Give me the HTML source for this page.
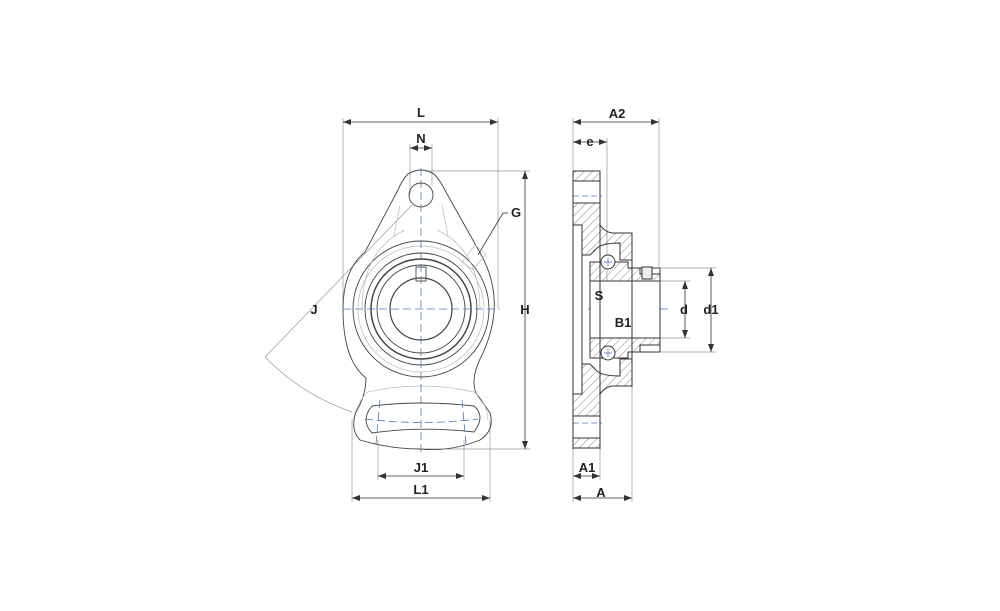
<!DOCTYPE html>
<html><head><meta charset="utf-8"><style>
html,body{margin:0;padding:0;background:#fff;}
svg{display:block;}
text{font-family:"Liberation Sans",sans-serif;font-weight:bold;font-size:13px;fill:#222;}
</style></head><body>
<svg width="1000" height="611" viewBox="0 0 1000 611" xmlns="http://www.w3.org/2000/svg">
<defs>
<pattern id="h" width="6" height="6" patternUnits="userSpaceOnUse" patternTransform="rotate(45)">
<line x1="0" y1="0" x2="0" y2="6" stroke="#555" stroke-width="0.7"/></pattern>
<marker id="a" markerWidth="8" markerHeight="6" refX="8" refY="3" orient="auto-start-reverse" markerUnits="userSpaceOnUse">
<path d="M0,0 L8,3 L0,6 z" fill="#333"/></marker>
</defs>
<g fill="none" stroke="#999" stroke-width="0.7">
<line x1="343" y1="118" x2="343" y2="309"/>
<line x1="498" y1="118" x2="498" y2="309"/>
<line x1="410" y1="144" x2="410" y2="195"/>
<line x1="432" y1="144" x2="432" y2="185"/>
<line x1="425" y1="171" x2="530" y2="171"/>
<line x1="425" y1="449" x2="530" y2="449"/>
<line x1="352" y1="420" x2="352" y2="502"/>
<line x1="490" y1="420" x2="490" y2="502"/>
<line x1="378" y1="440" x2="378" y2="480"/>
<line x1="464" y1="440" x2="464" y2="480"/>
<line x1="265" y1="357" x2="412" y2="205"/>
<path d="M265,357 A225,225 0 0 0 352,412"/>
<line x1="573" y1="118" x2="573" y2="502"/>
<line x1="659" y1="118" x2="659" y2="267"/>
<line x1="607" y1="138" x2="607" y2="306"/>
<line x1="600" y1="449" x2="600" y2="480"/>
<line x1="632" y1="387" x2="632" y2="502"/>
<line x1="660" y1="268" x2="716" y2="268"/>
<line x1="660" y1="352" x2="716" y2="352"/>
<line x1="640" y1="281" x2="690" y2="281"/>
<line x1="640" y1="338" x2="690" y2="338"/>
</g>
<g stroke="#333" stroke-width="0.8" fill="none" marker-start="url(#a)" marker-end="url(#a)">
<line x1="343" y1="122" x2="498" y2="122"/>
<line x1="410" y1="148" x2="432" y2="148"/>
<line x1="525" y1="171" x2="525" y2="449"/>
<line x1="378" y1="476" x2="464" y2="476"/>
<line x1="352" y1="498" x2="490" y2="498"/>
<line x1="573" y1="122" x2="659" y2="122"/>
<line x1="573" y1="142" x2="607" y2="142"/>
<line x1="573" y1="476" x2="600" y2="476"/>
<line x1="573" y1="498" x2="632" y2="498"/>
<line x1="685" y1="281" x2="685" y2="338"/>
<line x1="711" y1="268" x2="711" y2="352"/>
<line x1="590" y1="302" x2="607" y2="302"/>
<line x1="590" y1="331" x2="660" y2="331"/>
</g>
<line x1="478" y1="255" x2="503" y2="213" stroke="#333" stroke-width="0.8"/>
<line x1="503" y1="213" x2="508" y2="213" stroke="#333" stroke-width="0.8"/>
<g fill="none" stroke="#444" stroke-width="0.9">
<path d="M408,174 Q421,166 434,174 Q440,180 446,192 L479,251 Q508,300 482,355 Q470,378 476,393 Q483,403 490,413 Q495,430 480,440 Q450,452 421,449 Q390,449 360,440 Q350,430 356,412 Q366,395 366,378 Q343,360 343,309 Q343,270 365,252 L398,190 Q402,180 408,174 Z"/>
<circle cx="421" cy="195" r="12"/>
<circle cx="421" cy="309" r="68"/>
<circle cx="421" cy="309" r="56"/>
<circle cx="421" cy="309" r="50" stroke-width="1.5"/>
<circle cx="421" cy="309" r="44"/>
<circle cx="421" cy="309" r="31" stroke-width="1.2"/>
<path d="M372,406 Q421,400 474,406 Q486,416 474,432 Q421,426 372,433 Q360,420 372,406 Z"/>
<rect x="416" y="267" width="10" height="14"/>
</g>
<g fill="none" stroke="#bbb" stroke-width="0.7">
<circle cx="421" cy="309" r="63"/>
<path d="M353,420 Q358,400 368,392 Q421,380 474,392 Q486,400 488,420"/>
<path d="M362,310 Q362,250 405,230 M480,310 Q480,250 437,230"/>
<line x1="400" y1="205" x2="394" y2="236"/><line x1="442" y1="205" x2="448" y2="236"/>
<path d="M462,262 L475,245 L486,254 L473,270 Z"/>
</g>
<g stroke="#4a78c0" stroke-width="0.8" stroke-dasharray="8,4" fill="none">
<line x1="421" y1="168" x2="421" y2="452"/>
<line x1="343" y1="309" x2="500" y2="309"/>
<path d="M365,419 Q421,426 478,419"/>
<line x1="380" y1="400" x2="376" y2="444"/><line x1="462" y1="400" x2="466" y2="444"/>
<line x1="573" y1="196" x2="602" y2="196" stroke-dasharray="6,3"/>
<line x1="573" y1="423" x2="602" y2="423" stroke-dasharray="6,3"/>
<line x1="588" y1="309" x2="668" y2="309"/>
</g>
<g stroke="#333" stroke-width="1">
<path fill="url(#h)" d="M573,171 H600 V181 H573 Z M573,203 H600 V210 L600,225 Q605,232 612,233 H632 V260 H620 V243 Q600,243 595,250 L590,255 H582 L582,225 H573 Z"/>
<path fill="url(#h)" d="M573,448 H600 V438 H573 Z M573,416 H600 V409 L600,394 Q605,387 612,386 H632 V359 H620 V376 Q600,376 595,369 L590,364 H582 L582,394 H573 Z"/>
<rect x="573" y="225" width="9" height="169" fill="#fff"/>
<path fill="url(#h)" d="M590,262 H628 V268 H640 V274 H660 V281 H590 Z"/>
<path fill="url(#h)" d="M590,338 H660 V345 H640 V352 H628 V358 H590 Z"/>
<rect x="590" y="281" width="70" height="57" fill="#fff"/>
<line x1="633" y1="268" x2="660" y2="268"/><line x1="660" y1="268" x2="660" y2="352"/>
<line x1="633" y1="352" x2="660" y2="352"/>
<rect x="642" y="267" width="10" height="12" fill="#eee"/>
<circle cx="608" cy="262" r="7" fill="#fff"/>
<circle cx="608" cy="353" r="7" fill="#fff"/>
<line x1="632" y1="233" x2="632" y2="387"/>
<line x1="600" y1="171" x2="600" y2="449"/>
<line x1="573" y1="171" x2="573" y2="449"/>
</g>
<g fill="none" stroke="#4a78c0" stroke-width="0.8">
<line x1="604" y1="262" x2="612" y2="262"/><line x1="608" y1="258" x2="608" y2="266"/>
<line x1="604" y1="353" x2="612" y2="353"/><line x1="608" y1="349" x2="608" y2="357"/>
</g>
<text x="421" y="117" text-anchor="middle">L</text>
<text x="421" y="143" text-anchor="middle">N</text>
<text x="516" y="217" text-anchor="middle">G</text>
<text x="314" y="314" text-anchor="middle">J</text>
<text x="525" y="314" text-anchor="middle">H</text>
<text x="421" y="472" text-anchor="middle">J1</text>
<text x="421" y="494" text-anchor="middle">L1</text>
<text x="617" y="118" text-anchor="middle">A2</text>
<text x="590" y="146" text-anchor="middle">e</text>
<text x="599" y="300" text-anchor="middle">S</text>
<text x="623" y="327" text-anchor="middle">B1</text>
<text x="684" y="314" text-anchor="middle">d</text>
<text x="711" y="314" text-anchor="middle">d1</text>
<text x="587" y="472" text-anchor="middle">A1</text>
<text x="601" y="497" text-anchor="middle">A</text>
</svg>
</body></html>
